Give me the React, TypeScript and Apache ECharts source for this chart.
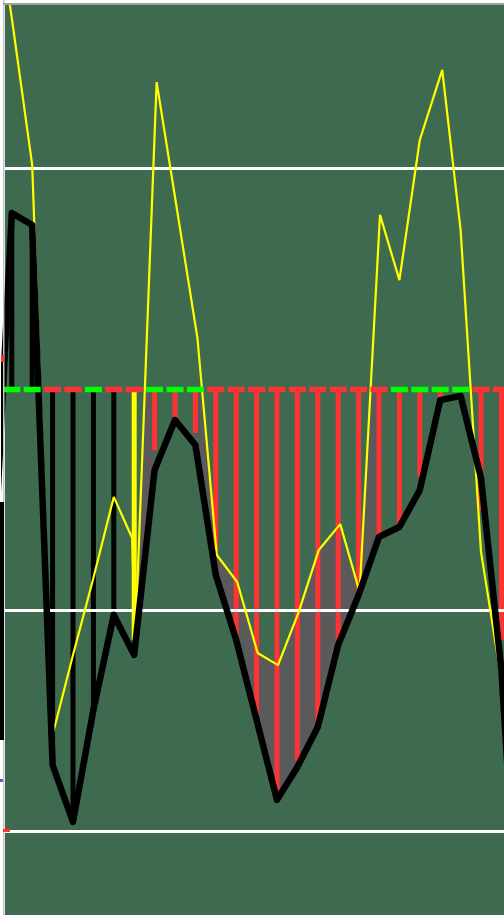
import React, { useEffect, useRef } from "react";
import * as echarts from "echarts";

// ---- data (values in indicator units; white guide lines at +100 / -100 / -200) ----
const barIdx = [0, 1, 2, 3, 4, 5, 6, 7, 8, 9, 10, 11, 12, 13, 14, 15, 16, 17, 18, 19, 20, 21, 22, 23, 24];
const barVal = [79.9, 74.4, -169.9, -195.7, -145.0, -102.0, -113.3, -27.4, -12.9, -19.7, -72.6, -113.3, -147.3, -181.2, -168.0, -150.0, -113.0, -92.0, -66.7, -60.4, -39.6, -3.4, -1.1, -54.5, -113.3];
const barColor = ["k", "k", "k", "k", "k", "k", "y", "r", "r", "r", "r", "r", "r", "r", "r", "r", "r", "r", "r", "r", "r", "r", "r", "r", "r"];
const dashColor = ["g", "g", "r", "r", "g", "r", "r", "g", "g", "g", "r", "r", "r", "r", "r", "r", "r", "r", "r", "g", "g", "g", "g", "r", "r"];

// black (signal) line, index -1 .. 25
const blackVal = [-104.3, 79.9, 74.4, -169.9, -195.7, -145.0, -102.0, -120.1, -36.4, -13.8, -25.1, -83.9, -113.3, -149.5, -185.7, -170.8, -152.7, -115.6, -93.0, -66.7, -62.2, -45.5, -4.8, -2.9, -40.0, -126.9, -276.0];
const blackIdx = blackVal.map((_, i) => i - 1);

// yellow line
const yellowIdx = [-1, 0, 1, 2, 3, 4, 5, 5.9, 6.05, 7.1, 8, 9.1, 10.05, 11.05, 12.05, 13.05, 14.05, 15.05, 16.1, 17.05, 18.05, 19, 20, 21.1, 22, 23, 24, 25];
const yellowVal = [230.3, 168.1, 101.6, -156.3, -120.1, -85.3, -48.6, -67.2, -113.3, 139.1, 87.1, 23.3, -74.9, -87.1, -119.2, -124.7, -101.1, -72.6, -60.9, -91.6, 79.0, 49.5, 112.9, 144.6, 72.2, -73.5, -131.4, -185.7];

// intervals (start index) where the grey fill between the lines is drawn
const greyStart = [6, 9, 10, 11, 12, 13, 14, 15, 16, 17];
const levelLines = [100, -100, -200];

const K_MIN = -0.333;
const K_MAX = 24.128;
const Y_MIN = -237.78;
const Y_MAX = 173.98;

const BG = "#3e6b4f";
const GREY = "#5a5a5a";
const RED = "#ff3333";
const GREEN = "#00ff00";
const YELLOW = "#ffff00";
const COLORS: Record<string, string> = { k: "#000000", y: YELLOW, r: RED, g: GREEN };

function interp(xs: number[], ys: number[], x: number): number {
  if (x <= xs[0]) return ys[0];
  for (let i = 0; i < xs.length - 1; i++) {
    if (x >= xs[i] && x <= xs[i + 1]) {
      const t = (x - xs[i]) / (xs[i + 1] - xs[i]);
      return ys[i] + t * (ys[i + 1] - ys[i]);
    }
  }
  return ys[ys.length - 1];
}

export default function App() {
  const ref = useRef<HTMLDivElement>(null);
  useEffect(() => {
    if (!ref.current) return;
    const chart = echarts.init(ref.current, undefined, { renderer: "svg" });
    const option: any = {
      animation: false,
      grid: {
        left: 5,
        top: 5,
        right: 0,
        bottom: 0,
        show: true,
        backgroundColor: BG,
        borderWidth: 0,
      },
      xAxis: { type: "value", min: K_MIN, max: K_MAX, show: false },
      yAxis: { type: "value", min: Y_MIN, max: Y_MAX, show: false },
      graphic: [
        { type: "rect", shape: { x: 3, y: 0, width: 1.5, height: 915 }, style: { fill: "#c4c4c4" }, z: 10 },
        { type: "rect", shape: { x: 3, y: 3, width: 501, height: 2 }, style: { fill: "#a0a0a0" }, z: 10 },
        { type: "rect", shape: { x: 0, y: 502, width: 4, height: 238 }, style: { fill: "#000000" }, z: 10 },
        { type: "rect", shape: { x: 1, y: 355, width: 3, height: 7 }, style: { fill: RED }, z: 10 },
        { type: "rect", shape: { x: 3, y: 829, width: 7, height: 3 }, style: { fill: RED }, z: 10 },
        { type: "rect", shape: { x: 0, y: 779, width: 3, height: 3 }, style: { fill: "#4a66c8" }, z: 10 },
      ],
      series: [
        {
          type: "custom",
          z: 1,
          silent: true,
          data: greyStart.map((s) => [s, 0]),
          encode: { x: 0, y: 1 },
          renderItem: (params: any, api: any) => {
            const s = api.value(0);
            const top: number[][] = [];
            const bot: number[][] = [];
            const N = 40;
            for (let j = 0; j <= N; j++) {
              const x = s + j / N;
              const b = interp(blackIdx, blackVal, x);
              let t = Math.min(interp(yellowIdx, yellowVal, x), 0);
              if (t < b) t = b;
              top.push(api.coord([x, t]));
              bot.push(api.coord([x, b]));
            }
            return {
              type: "polygon",
              shape: { points: top.concat(bot.reverse()) },
              style: { fill: GREY },
            };
          },
        },
        {
          type: "bar",
          z: 2,
          barWidth: 5,
          silent: true,
          data: barIdx.map((k, i) => ({
            value: [k, barVal[i]],
            itemStyle: { color: COLORS[barColor[i]] },
          })),
        },
        {
          type: "custom",
          z: 3,
          silent: true,
          data: levelLines.map((v) => [0, v]),
          encode: { x: 0, y: 1 },
          renderItem: (params: any, api: any) => {
            const v = api.value(1);
            const a = api.coord([K_MIN, v]);
            const b = api.coord([K_MAX, v]);
            return {
              type: "line",
              shape: { x1: a[0], y1: a[1], x2: b[0], y2: b[1] },
              style: { stroke: "#ffffff", lineWidth: 3 },
            };
          },
        },
        {
          type: "line",
          z: 5,
          silent: true,
          symbol: "none",
          clip: true,
          lineStyle: { color: YELLOW, width: 2.2 },
          data: yellowIdx.map((k, i) => [k, yellowVal[i]]),
        },
        {
          type: "line",
          z: 6,
          silent: true,
          symbol: "none",
          clip: true,
          lineStyle: { color: "#000000", width: 6.5, join: "round", cap: "round" },
          data: blackIdx.map((k, i) => [k, blackVal[i]]),
        },
        {
          type: "custom",
          z: 7,
          silent: true,
          data: barIdx.map((k) => [k, 0]),
          encode: { x: 0, y: 1 },
          renderItem: (params: any, api: any) => {
            const p = api.coord([api.value(0), 0]);
            return {
              type: "rect",
              shape: { x: p[0] - 8.5, y: p[1] - 2.75, width: 17, height: 5.5 },
              style: { fill: COLORS[dashColor[params.dataIndex]] },
            };
          },
        },
      ],
    };
    chart.setOption(option);
    return () => chart.dispose();
  }, []);
  return (
    <div
      ref={ref}
      style={{ position: "fixed", left: 0, top: 0, width: 504, height: 915, background: "#ffffff" }}
    />
  );
}
